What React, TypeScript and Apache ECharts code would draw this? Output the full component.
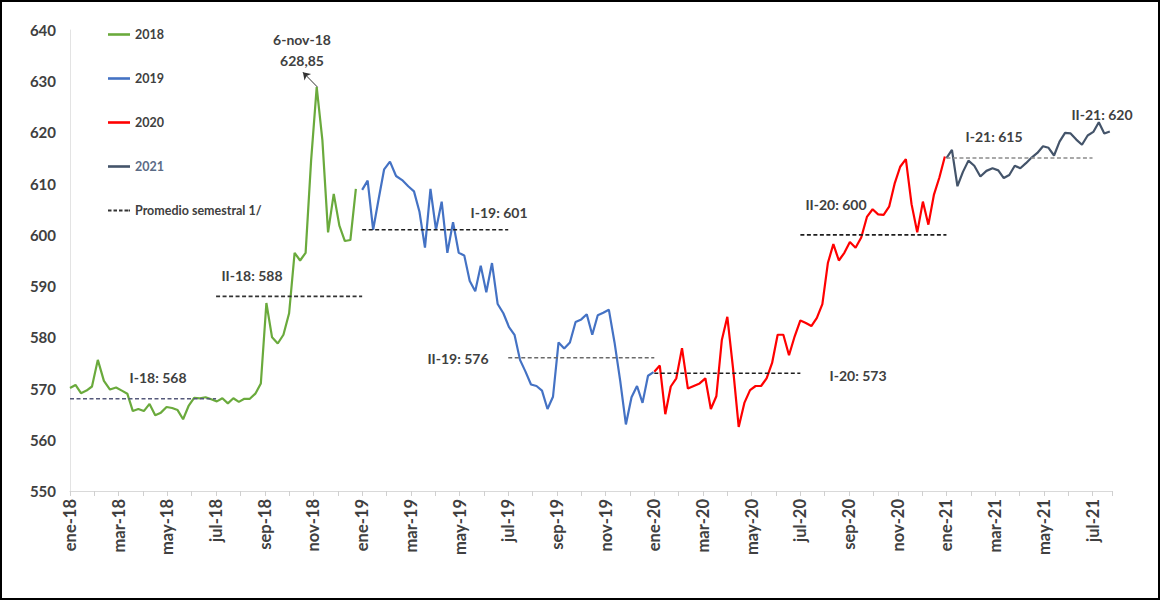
import React, { useEffect, useRef } from "react";
import * as echarts from "echarts";

// ---- Data -------------------------------------------------------------
const MONTH_NAMES = ["ene", "feb", "mar", "abr", "may", "jun", "jul", "ago", "sep", "oct", "nov", "dic"];

// Weekly observations, each series starting on the given date
const start2018 = "2018-01-01";
const start2019 = "2019-01-01";
const start2020 = "2020-01-01";
const start2021 = "2021-01-01";

const values2018 = [
  570.1, 570.7, 569.1, 569.6, 570.4, 575.6, 571.5, 569.8, 570.2, 569.6,
  569.0, 565.6, 566.0, 565.6, 567.0, 564.8, 565.3, 566.4, 566.2, 565.8,
  564.0, 566.6, 568.2, 568.1, 568.3, 567.9, 567.5, 568.1, 567.1, 568.1,
  567.4, 568.0, 568.0, 569.0, 571.0, 586.7, 580.0, 578.8, 580.5, 584.7,
  596.5, 595.0, 596.5, 614.5, 628.85, 618.5, 600.5, 608.0, 601.8, 598.8,
  599.0, 609.0,
];

const values2019 = [
  608.8, 610.6, 601.0, 607.0, 612.8, 614.3, 611.5, 610.7, 609.5, 608.5,
  604.5, 597.5, 609.0, 601.0, 606.5, 596.5, 602.5, 596.5, 596.0, 591.0,
  589.0, 594.0, 588.8, 594.5, 586.5, 584.7, 582.0, 580.5, 575.6, 573.3,
  570.8, 570.5, 569.6, 566.0, 568.4, 579.0, 577.8, 579.0, 583.0, 583.5,
  584.5, 580.5, 584.3, 584.8, 585.4, 579.0, 571.5, 563.0, 568.3, 570.5,
  567.2, 572.5, 573.2,
];

const values2020 = [
  573.3, 574.5, 565.0, 570.4, 572.0, 577.9, 570.0, 570.5, 571.0, 572.0,
  566.0, 568.5, 579.5, 584.0, 574.0, 562.5, 567.2, 569.7, 570.5, 570.5,
  572.0, 575.0, 580.5, 580.5, 576.5, 580.2, 583.3, 582.8, 582.2, 583.8,
  586.5, 594.5, 598.2, 595.0, 596.5, 598.6, 597.5, 599.5, 603.5, 605.0,
  604.0, 603.9, 605.5, 610.0, 613.3, 614.8, 606.0, 600.5, 606.5, 602.0,
  607.8, 611.2, 615.3,
];

const values2021 = [
  615.0, 616.6, 609.5, 612.3, 614.5, 613.5, 611.4, 612.5, 613.0, 612.6,
  611.1, 611.7, 613.5, 613.0, 614.0, 615.1, 616.0, 617.3, 617.0, 615.5,
  618.2, 619.9, 619.8, 618.6, 617.6, 619.4, 620.1, 622.0, 619.8, 620.2,
];

// Semester averages
const avgLabels = ["I-18: 568", "II-18: 588", "I-19: 601", "II-19: 576", "I-20: 573", "II-20: 600", "I-21: 615"];
const avgFrom = ["2018-01-01", "2018-07-01", "2019-01-01", "2019-07-01", "2020-01-01", "2020-07-01", "2021-01-01"];
const avgTo = ["2018-07-01", "2019-01-01", "2019-07-01", "2020-01-01", "2020-07-01", "2021-01-01", "2021-07-01"];
const avgValues = [568, 588, 601, 576, 573, 600, 615];

// Peak annotation
const peakDate = "2018-11-06";
const peakValue = 628.85;
const peakText = ["6-nov-18", "628,85"];
const lastSemesterLabel = "II-21: 620";

// ---- Helpers ----------------------------------------------------------
const DAY = 86400000;
function monthCoord(t: number): number {
  const d = new Date(t);
  const y = d.getUTCFullYear();
  const mo = d.getUTCMonth();
  const day = d.getUTCDate();
  const dim = new Date(Date.UTC(y, mo + 1, 0)).getUTCDate();
  return (y - 2018) * 12 + mo + (day - 1) / dim;
}
const parse = (s: string) => Date.parse(s + "T00:00:00Z");
function weekly(start: string, vals: number[]) {
  const t0 = parse(start);
  return vals.map((v, i) => [monthCoord(t0 + i * 7 * DAY), v]);
}

const AVG_COLORS = ["#55597a", "#333333", "#1e1e1e", "#6a6a6a", "#1e1e1e", "#1e1e1e", "#8c8c8c"];
const FONT = "Lato, 'Open Sans', sans-serif";
const TXT = "#404040";

const SOLID_ICON = "path://M0,0H22V2.6H0Z";
const DASH_ICON = "path://M0,0H3.5V2H0Z M5.5,0H9V2H5.5Z M11,0H14.5V2H11Z M16.5,0H20V2H16.5Z M20.5,0H22V2H20.5Z";

// label layout (pixel centres)
const avgLabelPos = [
  [158, 377], [252, 275], [499, 212], [458, 358], [858, 375], [836, 204], [994, 136],
];

export default function App() {
  const ref = useRef<HTMLDivElement>(null);

  useEffect(() => {
    document.body.style.margin = "0";
    if (!ref.current) return;
    const chart = echarts.init(ref.current, undefined, { renderer: "svg" });

    const yearSeries = [
      { name: "2018", color: "#6aaa3c", data: weekly(start2018, values2018) },
      { name: "2019", color: "#4472c4", data: weekly(start2019, values2019) },
      { name: "2020", color: "#ff0000", data: weekly(start2020, values2020) },
      { name: "2021", color: "#44546a", data: weekly(start2021, values2021) },
    ].map((s, idx) => ({
      type: "line",
      name: s.name,
      data: s.data,
      showSymbol: false,
      symbol: "none",
      lineStyle: { color: s.color, width: 2.2 },
      itemStyle: { color: s.color },
      z: 2,
      ...(idx === 0
        ? {
            markLine: {
              silent: true,
              symbolSize: 7,
              label: { show: false },
              lineStyle: { color: "#333", width: 1, type: "solid" },
              data: [
                [
                  { coord: [monthCoord(parse(peakDate)), peakValue], symbol: "none" },
                  { coord: [monthCoord(parse(peakDate)) - 0.6, peakValue + 2.9], symbol: "arrow" },
                ],
              ],
            },
          }
        : {}),
    }));

    const avgSeries = avgValues.map((v, i) => ({
      type: "line",
      name: "Promedio semestral 1/",
      data: [
        [monthCoord(parse(avgFrom[i])), v],
        [monthCoord(parse(avgTo[i])), v],
      ],
      showSymbol: false,
      symbol: "none",
      lineStyle: { color: AVG_COLORS[i], width: 1.6, type: [4, 2.5] },
      itemStyle: { color: AVG_COLORS[i] },
      z: 3,
    }));

    const textStyle = (t: string) => ({
      text: t,
      fill: TXT,
      font: `bold 14px ${FONT}`,
      textAlign: "center",
      textVerticalAlign: "middle",
      align: "center",
      verticalAlign: "middle",
    });

    const texts: any[] = avgLabels.map((t, i) => ({
      type: "text",
      x: avgLabelPos[i][0],
      y: avgLabelPos[i][1],
      style: textStyle(t),
    }));
    texts.push({ type: "text", x: 1102, y: 114, style: textStyle(lastSemesterLabel) });
    texts.push({ type: "text", x: 302, y: 39, style: textStyle(peakText[0]) });
    texts.push({ type: "text", x: 302, y: 60, style: textStyle(peakText[1]) });
    texts.push({
      type: "rect",
      shape: { x: 1, y: 1, width: 1158, height: 598 },
      style: { fill: "none", stroke: "#000", lineWidth: 2 },
      silent: true,
    });

    chart.setOption({
      animation: false,
      backgroundColor: "#ffffff",
      grid: { left: 70, right: 49, top: 30, bottom: 110, containLabel: false },
      legend: {
        orient: "vertical",
        left: 103,
        top: 23,
        itemWidth: 22,
        itemHeight: 14,
        itemGap: 31,
        icon: SOLID_ICON,
        textStyle: { color: TXT, fontFamily: FONT, fontWeight: "bold", fontSize: 12.5 },
        data: [
          { name: "2018" },
          { name: "2019" },
          { name: "2020" },
          { name: "2021", textStyle: { color: "#5b6b85" } },
          { name: "Promedio semestral 1/", icon: DASH_ICON, itemStyle: { color: "#333333" } },
        ],
      },
      xAxis: {
        type: "value",
        min: 0,
        max: 42.8,
        interval: 2,
        axisLine: { show: true, lineStyle: { color: "#d9d9d9", width: 1 } },
        axisTick: { show: true, length: 5, lineStyle: { color: "#d0d0d0" } },
        minorTick: { show: true, splitNumber: 2, length: 5, lineStyle: { color: "#d0d0d0" } },
        splitLine: { show: false },
        axisLabel: {
          rotate: 90,
          margin: 8,
          showMaxLabel: false,
          color: TXT,
          fontFamily: FONT,
          fontWeight: "bold",
          fontSize: 16.5,
          formatter: (v: number) => {
            const m = Math.round(v);
            const y = 18 + Math.floor(m / 12);
            return `${MONTH_NAMES[m % 12]}-${y}`;
          },
        },
      },
      yAxis: {
        type: "value",
        min: 550,
        max: 640,
        interval: 10,
        axisLine: { show: true, lineStyle: { color: "#e3e3e3", width: 1 } },
        axisTick: { show: false },
        splitLine: { show: false },
        axisLabel: { color: TXT, fontFamily: FONT, fontWeight: "bold", fontSize: 15, margin: 14 },
      },
      series: [...yearSeries, ...avgSeries],
      graphic: texts,
    });

    return () => chart.dispose();
  }, []);

  return <div ref={ref} style={{ width: 1161, height: 601 }} />;
}
